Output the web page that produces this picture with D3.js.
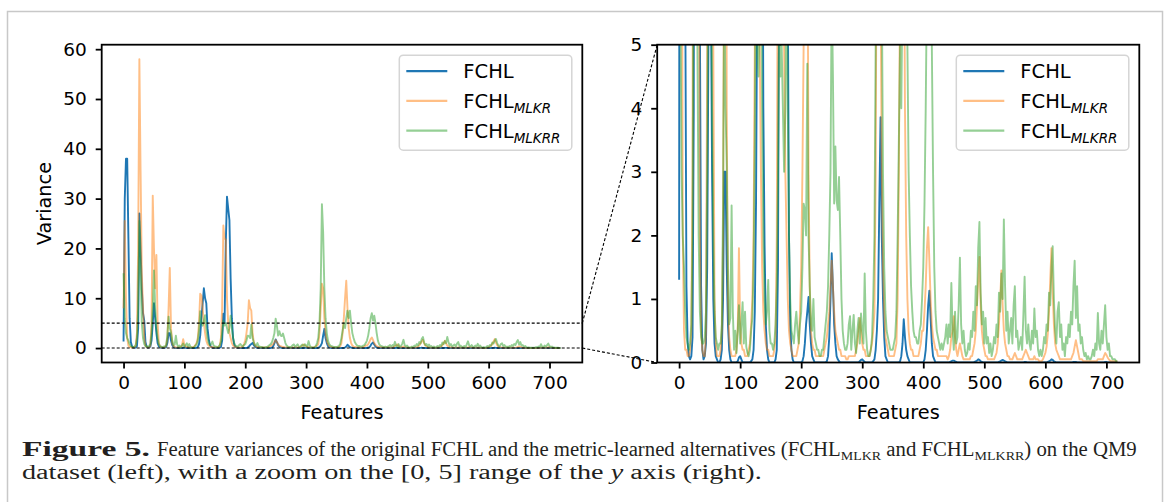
<!DOCTYPE html>
<html>
<head>
<meta charset="utf-8">
<script src="https://cdn.jsdelivr.net/npm/d3@7"></script>
<style>
  html, body { margin: 0; padding: 0; background: #fff; }
  svg { display: block; }
</style>
</head>
<body>
<div id="chart"></div>
<script>
// feature index, sampled every 2 features
const features = d3.range(0, 720, 2);

// FCHL (original)
const fchl = [
  1.3, 30, 38, 38, 22, 6, 1.2, 0.3, 0.1, 0.05, 0.1, 0.4, 4, 27, 20, 12, 7, 5.5, 1.2, 0.2,
  0.05, 0.1, 0.3, 1.5, 5, 9, 6, 3, 1, 0.3, 0.1, 0.05, 0, 0, 0.05, 0.2, 1, 3, 3, 1.5,
  0.6, 0.2, 0.05, 0, 0, 0, 0, 0, 0.02, 0.08, 0.1, 0.05, 0, 0, 0, 0, 0, 0, 0, 0.02,
  0.05, 0.2, 0.8, 2.5, 6, 9, 12, 10, 9, 4, 1.85, 0.6, 0.2, 0.05, 0, 0, 0, 0, 0, 0.05,
  0.2, 1.5, 6.9, 5, 21, 30.4, 28, 25.7, 13.9, 6, 2, 0.6, 0.2, 0.05, 0, 0, 0, 0, 0, 0,
  0, 0.02, 0.1, 0.3, 0.6, 0.8, 1.03, 0.6, 0.3, 0.1, 0.05, 0, 0, 0, 0, 0, 0, 0, 0, 0,
  0, 0.02, 0.1, 0.4, 1, 1.72, 1.2, 0.6, 0.3, 0.1, 0.05, 0.02, 0, 0, 0, 0, 0, 0, 0, 0,
  0, 0, 0, 0, 0, 0, 0, 0, 0.02, 0.04, 0.05, 0.03, 0.01, 0, 0, 0, 0, 0, 0, 0.02,
  0.05, 0.2, 0.5, 1, 2.5, 3.86, 2, 1, 0.4, 0.1, 0.05, 0, 0, 0, 0, 0, 0, 0, 0, 0,
  0, 0.02, 0.1, 0.3, 0.68, 0.4, 0.2, 0.1, 0.05, 0, 0, 0, 0, 0, 0, 0, 0, 0, 0, 0,
  0, 0.05, 0.2, 0.5, 0.9, 1.13, 0.7, 0.3, 0.1, 0.05, 0, 0, 0, 0, 0, 0, 0, 0, 0, 0,
  0, 0, 0.01, 0.02, 0.03, 0.03, 0.02, 0.01, 0, 0, 0, 0, 0, 0, 0, 0, 0, 0, 0, 0,
  0, 0, 0.01, 0.02, 0.03, 0.05, 0.04, 0.02, 0.01, 0, 0, 0, 0, 0, 0, 0, 0, 0, 0, 0,
  0, 0, 0.01, 0.02, 0.03, 0.04, 0.03, 0.02, 0.01, 0, 0, 0, 0, 0, 0, 0, 0, 0, 0, 0,
  0, 0, 0, 0.01, 0.01, 0, 0, 0, 0, 0, 0, 0, 0, 0, 0, 0, 0, 0, 0, 0,
  0, 0, 0.01, 0.02, 0.03, 0.05, 0.04, 0.02, 0.01, 0, 0, 0, 0, 0, 0, 0, 0, 0, 0, 0,
  0, 0, 0, 0.01, 0.01, 0.01, 0, 0, 0, 0, 0, 0, 0, 0, 0, 0, 0, 0, 0, 0,
  0, 0, 0, 0, 0, 0, 0, 0, 0, 0.01, 0.01, 0, 0, 0, 0, 0, 0, 0, 0, 0
];

// FCHL_MLKR
const fchlMlkr = [
  8, 25.5, 10, 2, 0.5, 0.2, 0.2, 0.1, 0.1, 0.2, 0.5, 3, 20, 58, 35.5, 15, 8, 2, 0.5, 0.2,
  0.1, 0.1, 0.5, 5, 30.6, 20, 12, 18.7, 5, 1, 0.3, 0.1, 0.1, 0.1, 0.2, 0.5, 2, 8, 16.1, 4,
  1, 0.4, 0.2, 0.1, 0.1, 0.1, 0.1, 0.2, 0.5, 1.8, 0.6, 0.3, 0.2, 0.2, 0.1, 0.1, 0.1, 0.2, 0.3, 0.6,
  1, 2, 5, 10.9, 10.5, 8, 5, 3, 1.5, 0.8, 0.5, 0.3, 0.2, 0.2, 0.1, 0.1, 0.1, 0.1, 0.2, 0.4,
  2, 8, 24.6, 22, 21.7, 10, 5, 3, 2, 1, 0.5, 0.3, 0.2, 0.1, 0.1, 0.1, 0.1, 0.2, 0.3, 0.8,
  1.5, 3, 5, 9.6, 8, 7.5, 3, 1.2, 0.5, 0.3, 0.2, 0.2, 0.1, 0.1, 0.1, 0.1, 0.1, 0.1, 0.1, 0.2,
  0.3, 0.4, 0.6, 0.8, 1.2, 1.6, 1.2, 0.8, 0.5, 0.4, 0.3, 0.2, 0.2, 0.1, 0.1, 0.1, 0.1, 0.05, 0.05, 0.1,
  0.1, 0.1, 0.1, 0.1, 0.1, 0.2, 0.3, 0.5, 0.7, 0.5, 0.3, 0.2, 0.2, 0.1, 0.1, 0.1, 0.1, 0.2, 0.3, 0.5,
  0.8, 3, 8, 12.9, 12, 6, 3, 1.5, 0.8, 0.4, 0.3, 0.2, 0.1, 0.1, 0.1, 0.1, 0.1, 0.2, 0.3, 1,
  3, 6, 10, 13.5, 8, 4, 2, 1, 0.5, 0.3, 0.2, 0.2, 0.1, 0.1, 0.1, 0.1, 0.1, 0.2, 0.3, 0.5,
  0.5, 0.8, 1.2, 1.8, 2.13, 1.6, 1, 0.6, 0.4, 0.3, 0.2, 0.2, 0.1, 0.1, 0.1, 0.1, 0.1, 0.1, 0.1, 0.1,
  0.05, 0.1, 0.2, 0.4, 0.5, 0.73, 0.4, 0.2, 0.1, 0.2, 0.3, 0.2, 0.1, 0.05, 0.05, 0.05, 0.05, 0.05, 0.05, 0.1,
  0.1, 0.2, 0.3, 0.5, 0.9, 1.3, 1.66, 0.9, 0.5, 0.3, 0.2, 0.1, 0.1, 0.05, 0.05, 0.05, 0.05, 0.05, 0.05, 0.1,
  0.15, 0.3, 0.6, 1, 1.45, 0.9, 0.5, 0.3, 0.2, 0.1, 0.1, 0.05, 0.05, 0.05, 0.1, 0.15, 0.1, 0.05, 0.05, 0.05,
  0.05, 0.05, 0.1, 0.15, 0.2, 0.15, 0.1, 0.05, 0.05, 0.05, 0.05, 0.1, 0.05, 0.05, 0.05, 0.02, 0.02, 0.02, 0.05, 0.1,
  0.15, 0.25, 0.45, 0.8, 1.3, 1.8, 1.1, 0.6, 0.3, 0.2, 0.15, 0.1, 0.05, 0.05, 0.05, 0.05, 0.05, 0.05, 0.05, 0.05,
  0.05, 0.05, 0.1, 0.15, 0.25, 0.35, 0.25, 0.15, 0.05, 0.05, 0.05, 0.02, 0.02, 0.02, 0.02, 0.02, 0.02, 0.02, 0.02, 0.02,
  0.02, 0.02, 0.02, 0.05, 0.05, 0.05, 0.05, 0.05, 0.1, 0.15, 0.12, 0.08, 0.05, 0.03, 0.02, 0.02, 0.02, 0.02, 0.02, 0.02
];

// FCHL_MLKRR
const fchlMlkrr = [
  15, 6, 3, 2, 1.5, 0.8, 0.4, 0.3, 0.2, 0.3, 0.6, 2, 8, 25.5, 15, 5, 2, 0.8, 0.4, 0.3,
  0.3, 0.4, 0.8, 3, 8, 15.6, 8, 4, 2, 0.8, 0.4, 0.3, 0.2, 0.3, 0.3, 0.6, 2.5, 6.3, 4, 3.1,
  1.5, 0.6, 0.7, 2.47, 0.8, 0.2, 0.5, 0.15, 0.5, 0.9, 0.3, 0.6, 0.95, 0.3, 0.8, 0.25, 0.15, 0.1, 0.2, 0.5,
  0.7, 1.5, 3.5, 7.4, 5, 4.5, 5.5, 6.6, 4, 2, 1, 0.6, 0.8, 1.3, 0.5, 0.3, 0.3, 0.2, 0.3, 0.6,
  1.2, 3, 5.5, 4.5, 5, 4, 3, 4, 6.5, 4, 2, 1, 0.5, 0.4, 0.3, 0.6, 0.8, 0.5, 0.3, 0.6,
  0.8, 1.5, 2.5, 2.4, 2, 4.7, 2, 1.2, 0.6, 0.5, 1, 0.4, 0.3, 0.2, 0.2, 0.1, 0.1, 0.2, 0.2, 0.4,
  0.6, 0.8, 1.2, 2, 3, 5.9, 4.5, 2.5, 3.4, 2.55, 2.4, 2.92, 2, 1, 0.5, 0.3, 0.2, 0.2, 0.3, 0.6,
  0.73, 0.2, 0.5, 0.75, 0.3, 0.15, 0.5, 0.7, 0.3, 0.77, 0.5, 0.3, 1.4, 0.5, 0.2, 0.1, 0.1, 0.2, 0.4, 1,
  2, 5, 12, 28.9, 23.3, 12, 6, 3, 1.5, 0.8, 0.5, 0.4, 0.3, 0.2, 0.2, 0.2, 0.3, 0.4, 0.8, 2,
  3.5, 5, 4, 6, 7.5, 6, 7.5, 5, 3, 2, 1.2, 0.8, 0.5, 0.4, 0.4, 0.3, 0.3, 0.5, 0.6, 1,
  1.5, 2.5, 4, 6, 7, 5.5, 6.5, 5, 3, 1.5, 0.8, 0.5, 0.4, 0.3, 0.2, 0.3, 0.2, 0.3, 0.4, 0.6,
  0.3, 0.6, 0.4, 1.25, 0.5, 0.2, 0.8, 0.3, 0.4, 0.9, 1.65, 0.6, 0.3, 0.5, 0.2, 0.1, 0.15, 0.3, 0.2, 0.5,
  0.4, 0.8, 0.5, 1.2, 0.9, 1.8, 2.21, 1.1, 0.6, 0.8, 0.3, 0.7, 0.3, 0.4, 0.15, 0.3, 0.1, 0.2, 0.4, 0.3,
  0.6, 0.4, 1.1, 0.8, 1.4, 1, 2.25, 1.2, 0.5, 0.8, 0.3, 0.5, 0.7, 0.3, 0.9, 1.2, 0.4, 0.5, 0.2, 0.3,
  0.4, 0.2, 0.75, 1.35, 0.5, 0.3, 0.6, 0.3, 0.2, 0.5, 0.3, 0.85, 0.4, 0.5, 0.2, 0.1, 0.2, 0.1, 0.2, 0.4,
  0.3, 0.6, 0.5, 1.1, 0.9, 1.5, 1.83, 1, 0.5, 0.3, 0.8, 0.95, 0.4, 0.6, 0.2, 0.3, 0.1, 0.4, 0.3, 0.6,
  0.4, 0.8, 0.6, 1.2, 1.6, 0.7, 1.2, 0.5, 0.6, 0.3, 0.4, 0.2, 0.1, 0.15, 0.05, 0.1, 0.05, 0.05, 0.1, 0.2,
  0.1, 0.3, 0.2, 0.78, 0.3, 0.2, 0.5, 0.3, 0.6, 0.9, 0.4, 0.2, 0.3, 0.1, 0.1, 0.05, 0.05, 0.05, 0.02, 0.02
];

const xTicks = [0, 100, 200, 300, 400, 500, 600, 700];
const fullYTicks = [0, 10, 20, 30, 40, 50, 60];
const zoomYTicks = [0, 1, 2, 3, 4, 5];
const zoomRange = [0, 5];

const series = [
    { name: "FCHL", sub: "", values: fchl, color: "#1f77b4", alpha: 1 },
    { name: "FCHL", sub: "MLKR", values: fchlMlkr, color: "#ff7f0e", alpha: 0.5 },
    { name: "FCHL", sub: "MLKRR", values: fchlMlkrr, color: "#2ca02c", alpha: 0.5 }
];

const width = 1170, height = 502;
const tickSize = 18.5, labelSize = 19.3;

const svg = d3.select("#chart")
    .append("svg")
    .attr("width", width)
    .attr("height", height)
    .style("font-family", "'DejaVu Sans', sans-serif");

// page frame
svg.append("rect")
    .attr("x", 7.5).attr("y", 11.5)
    .attr("width", 1155).attr("height", 520)
    .attr("fill", "none")
    .attr("stroke", "#c8c8c8")
    .attr("stroke-width", 1.5);

// matplotlib style 5% margins
const fMin = d3.min(features), fMax = d3.max(features);
const xPad = (fMax - fMin) * 0.05;
const xDomain = [fMin - xPad, fMax + xPad];
const vMax = d3.max(series.flatMap(s => s.values));
const fullDomain = [-vMax * 0.05, vMax * 1.05];

function drawPanel(cfg) {
    const x = d3.scaleLinear().domain(xDomain).range([cfg.left, cfg.right]);
    const y = d3.scaleLinear().domain(cfg.yDomain).range([cfg.bottom, cfg.top]);

    svg.append("clipPath").attr("id", "clip-" + cfg.id)
        .append("rect")
        .attr("x", cfg.left).attr("y", cfg.top)
        .attr("width", cfg.right - cfg.left)
        .attr("height", cfg.bottom - cfg.top);

    const line = d3.line()
        .x((d, i) => x(features[i]))
        .y(d => y(d));

    svg.append("g")
        .attr("clip-path", `url(#clip-${cfg.id})`)
        .selectAll("path")
        .data(series)
        .join("path")
        .attr("d", d => line(d.values))
        .attr("fill", "none")
        .attr("stroke", d => d.color)
        .attr("stroke-opacity", d => d.alpha)
        .attr("stroke-width", 1.9)
        .attr("stroke-linejoin", "round");

    const xAxis = svg.append("g")
        .attr("transform", `translate(0,${cfg.bottom})`)
        .call(d3.axisBottom(x).tickValues(xTicks).tickSize(6).tickPadding(7).tickSizeOuter(0));
    const yAxis = svg.append("g")
        .attr("transform", `translate(${cfg.left},0)`)
        .call(d3.axisLeft(y).tickValues(cfg.yTicks).tickFormat(d3.format("d"))
            .tickSize(6).tickPadding(9).tickSizeOuter(0));

    [xAxis, yAxis].forEach(a => {
        a.select(".domain").remove();
        a.selectAll(".tick line").attr("stroke", "#000").attr("stroke-width", 1.8);
        a.selectAll(".tick text")
            .attr("fill", "#000")
            .style("font-size", tickSize + "px")
            .style("font-family", "'DejaVu Sans', sans-serif");
    });

    // spines
    svg.append("rect")
        .attr("x", cfg.left).attr("y", cfg.top)
        .attr("width", cfg.right - cfg.left)
        .attr("height", cfg.bottom - cfg.top)
        .attr("fill", "none")
        .attr("stroke", "#000")
        .attr("stroke-width", 1.8);

    svg.append("text")
        .attr("x", (cfg.left + cfg.right) / 2)
        .attr("y", 419)
        .attr("text-anchor", "middle")
        .style("font-size", labelSize + "px")
        .text("Features");

    drawLegend(cfg.right - 10.5 - 172.5, cfg.top + 10.5);

    return { x, y };
}

function drawLegend(lx, ly) {
    const lg = svg.append("g").attr("transform", `translate(${lx},${ly})`);
    lg.append("rect")
        .attr("width", 172.5).attr("height", 95)
        .attr("rx", 4)
        .attr("fill", "#fff").attr("fill-opacity", 0.8)
        .attr("stroke", "#d5d5d5").attr("stroke-width", 1.5);

    series.forEach((s, i) => {
        const yy = 16 + i * 29.7;
        lg.append("line")
            .attr("x1", 7).attr("x2", 48)
            .attr("y1", yy).attr("y2", yy)
            .attr("stroke", s.color)
            .attr("stroke-opacity", s.alpha)
            .attr("stroke-width", 2.2);
        const t = lg.append("text")
            .attr("x", 64).attr("y", yy)
            .attr("dy", "0.36em")
            .style("font-size", "19.5px");
        t.append("tspan").text(s.name);
        if (s.sub) {
            t.append("tspan")
                .attr("dy", 5)
                .style("font-size", "13.5px")
                .style("font-style", "italic")
                .text(s.sub);
        }
    });
}

const left = drawPanel({ id: "full", left: 101.7, right: 582.3, top: 44.7, bottom: 362.5, yDomain: fullDomain, yTicks: fullYTicks });
const right = drawPanel({ id: "zoom", left: 657.2, right: 1139.3, top: 44.7, bottom: 362.5, yDomain: zoomRange, yTicks: zoomYTicks });

svg.append("text")
    .attr("transform", `translate(50.5,${(44.7 + 362.5) / 2}) rotate(-90)`)
    .attr("text-anchor", "middle")
    .style("font-size", labelSize + "px")
    .text("Variance");

// zoom indicator: band on the left panel and connectors to the right panel
const dash = g => g.attr("stroke", "#000").attr("stroke-width", 1.1).attr("stroke-dasharray", "3,2").attr("fill", "none");
const xl = left.x.range(), xr = right.x.range();
zoomRange.forEach(v => {
    svg.append("line")
        .attr("x1", xl[0]).attr("x2", xl[1])
        .attr("y1", left.y(v)).attr("y2", left.y(v))
        .call(dash);
    svg.append("line")
        .attr("x1", xl[1]).attr("y1", left.y(v))
        .attr("x2", xr[0]).attr("y2", right.y(v))
        .call(dash);
});

// caption
const cap = svg.append("g")
    .attr("fill", "#231f20")
    .style("font-family", "'Liberation Serif', serif")
    .style("font-size", "20px");

const head = cap.append("text").attr("font-weight", "bold").text("Figure 5.");

const l1 = cap.append("text");
l1.append("tspan").text("Feature variances of the original FCHL and the metric-learned alternatives (FCHL");
l1.append("tspan").attr("dy", 4).style("font-size", "13.5px").text("MLKR");
l1.append("tspan").attr("dy", -4).text(" and FCHL");
l1.append("tspan").attr("dy", 4).style("font-size", "13.5px").text("MLKRR");
l1.append("tspan").attr("dy", -4).text(") on the QM9");

const l2 = cap.append("text");
l2.append("tspan").text("dataset (left), with a zoom on the [0, 5] range of the ");
l2.append("tspan").style("font-style", "italic").text("y");
l2.append("tspan").text(" axis (right).");

// fit each caption run to its extent in the page
const fit = (t, x0, x1, yb) => {
    const s = (x1 - x0) / t.node().getComputedTextLength();
    t.attr("transform", `translate(${x0},${yb}) scale(${s},1)`);
};
fit(head, 22, 150, 456);
fit(l1, 157, 1137, 456);
fit(l2, 22, 762, 479);
</script>
</body>
</html>
